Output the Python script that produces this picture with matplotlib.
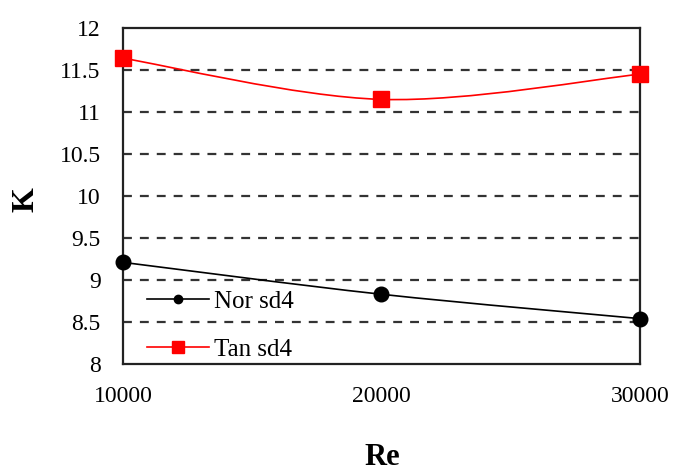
import matplotlib as mpl
import matplotlib.pyplot as plt
import numpy as np
from matplotlib.path import Path
from matplotlib.patches import PathPatch
from matplotlib.lines import Line2D

# данные
re_values = [10000, 20000, 30000]
k_nor = [9.21, 8.83, 8.54]
k_tan = [11.64, 11.15, 11.45]
y_ticks = [8, 8.5, 9, 9.5, 10, 10.5, 11, 11.5, 12]
x_ticks = [10000, 20000, 30000]

mpl.rc('font', family=['Liberation Serif', 'DejaVu Serif'])


def smooth_path(x, y):
    """Сглаженная линия через точки (кривые Безье, как в Excel)"""
    x = np.asarray(x, float)
    y = np.asarray(y, float)
    n = len(x)
    verts = [(x[0], y[0])]
    codes = [Path.MOVETO]
    for i in range(n - 1):
        i0 = max(i - 1, 0)
        i3 = min(i + 2, n - 1)
        c1 = (x[i] + (x[i + 1] - x[i0]) / 6, y[i] + (y[i + 1] - y[i0]) / 6)
        c2 = (x[i + 1] - (x[i3] - x[i]) / 6, y[i + 1] - (y[i3] - y[i]) / 6)
        verts += [c1, c2, (x[i + 1], y[i + 1])]
        codes += [Path.CURVE4] * 3
    return Path(verts, codes)


fig = plt.figure(figsize=(6.77, 4.74), dpi=100)
axes = fig.add_axes([0.1817, 0.2321, 0.7636, 0.7088])

axes.set_xlim(10000, 30000)
axes.set_ylim(8, 12)

# сетка
for yv in y_ticks[1:-1]:
    axes.axhline(yv, color='#333333', lw=1.6, ls=(0, (4, 3.6)), zorder=1)

# линии
axes.add_patch(PathPatch(smooth_path(re_values, k_nor), fc='none',
                         ec='black', lw=1.2, zorder=2))
axes.add_patch(PathPatch(smooth_path(re_values, k_tan), fc='none',
                         ec='#ff0000', lw=1.2, zorder=2))
axes.plot(re_values, k_nor, 'o', color='black', ms=10.5, zorder=3,
          clip_on=False)
axes.plot(re_values, k_tan, 's', color='#ff0000', ms=12, zorder=3,
          clip_on=False)

# легенда
handles = [Line2D([], [], color='black', lw=1.2, marker='o', ms=6),
           Line2D([], [], color='#ff0000', lw=1.2, marker='s', ms=8.5)]
axes.legend(handles, ['Nor sd4', 'Tan sd4'], loc='lower left',
            bbox_to_anchor=(0.046, 0.01), frameon=False, fontsize=18,
            handlelength=2.5, handletextpad=0.2, labelspacing=1.0,
            borderaxespad=0, borderpad=0)

axes.set_xticks(x_ticks)
axes.set_yticks(y_ticks)
axes.set_yticklabels(['8', '8.5', '9', '9.5', '10', '10.5', '11', '11.5', '12'])
axes.tick_params(length=0, pad=16, labelsize=17)

for s in axes.spines.values():
    s.set_linewidth(1.6)
    s.set_color('#222222')

fig.text(0.564, 0.02, 'Re', fontsize=22, fontweight='bold',
         ha='center', va='baseline')
fig.text(0.039, 0.578, 'K', fontsize=23, fontweight='bold',
         ha='center', va='center', rotation=90)

plt.savefig('out.png', dpi=100)
plt.close(fig)
